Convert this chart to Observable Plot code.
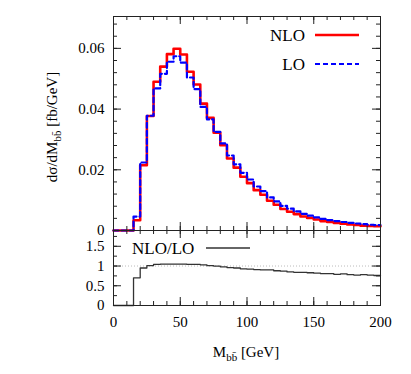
<!DOCTYPE html>
<html><head><meta charset="utf-8">
<script src="https://cdn.jsdelivr.net/npm/d3@7"></script>
<script src="https://cdn.jsdelivr.net/npm/@observablehq/plot@0.6"></script>
<style>
body{margin:0;background:#fff;}
#c{position:relative;width:411px;height:374px;font-family:"Liberation Serif","Times New Roman",serif;}
#c svg{position:absolute;left:0;overflow:visible;}
</style></head><body><div id="c"></div>
<script>
// bin lower edges (GeV), bin width 5
const binLow = [0,5,10,15,20,25,30,35,40,45,50,55,60,65,70,75,80,85,90,95,100,105,110,115,120,125,130,135,140,145,150,155,160,165,170,175,180,185,190,195];
const binWidth = 5;
// dσ/dM (fb/GeV)
const nlo = [0,0,0,0.0034,0.0215,0.0377,0.0490,0.0540,0.0581,0.0599,0.0580,0.0523,0.0481,0.0418,0.0371,0.0322,0.0281,0.0237,0.0207,0.0177,0.0156,0.0133,0.0118,0.0098,0.0085,0.0071,0.0062,0.0054,0.0046,0.0041,0.0036,0.0031,0.0028,0.0025,0.0022,0.0020,0.0018,0.0016,0.0015,0.0014];
const lo = [0,0,0,0.0046,0.0224,0.0378,0.0468,0.0516,0.0556,0.0574,0.0553,0.0504,0.0466,0.0407,0.0366,0.0325,0.0287,0.0247,0.0218,0.0190,0.0168,0.0145,0.0130,0.0109,0.0096,0.0081,0.0072,0.0063,0.0055,0.0049,0.0043,0.0038,0.0034,0.0031,0.0028,0.0025,0.0023,0.0021,0.0019,0.0018];
// NLO/LO ratio
const ratio = [0,0,0,0.70,0.95,1.01,1.04,1.05,1.05,1.05,1.05,1.04,1.04,1.03,1.01,1.00,0.98,0.96,0.95,0.93,0.92,0.91,0.90,0.90,0.88,0.87,0.85,0.84,0.84,0.83,0.82,0.81,0.81,0.79,0.80,0.78,0.77,0.78,0.77,0.76];
// axis ticks
const xTickLabels = [0,50,100,150,200];
const xMinor = [0,10,20,30,40,50,60,70,80,90,100,110,120,130,140,150,160,170,180,190,200];
const yTickLabels = [0,0.02,0.04,0.06];
const yMinor = [0,0.004,0.008,0.012,0.016,0.02,0.024,0.028,0.032,0.036,0.04,0.044,0.048,0.052,0.056,0.06,0.064,0.068];
const rTickLabels = [0,0.5,1,1.5];
const rMinor = [0,0.25,0.5,0.75,1,1.25,1.5,1.75];

const steps = vals => binLow.map((x,i)=>({x, y: vals[i]})).concat([{x: binLow[binLow.length-1]+binWidth, y: vals[vals.length-1]}]);

const W = 411, ML = 113, MR = 31;
const FW = W - ML - MR;
const FONT = '"Liberation Serif","Times New Roman",serif';
const frameCol = "#222";

function xTicksMarks(vals, len, FH){
  return [
    Plot.tickX(vals, {x: d=>d, insetTop: FH-len, stroke: frameCol, strokeWidth: 1}),
    Plot.tickX(vals, {x: d=>d, insetBottom: FH-len, stroke: frameCol, strokeWidth: 1})
  ];
}
function yTicksMarks(vals, len){
  return [
    Plot.tickY(vals, {y: d=>d, insetRight: FW-len, stroke: frameCol, strokeWidth: 1}),
    Plot.tickY(vals, {y: d=>d, insetLeft: FW-len, stroke: frameCol, strokeWidth: 1})
  ];
}

// main panel
const H1 = 230, MT1 = 16;
const FH1 = H1 - MT1;
const main = Plot.plot({
  width: W, height: H1, marginTop: MT1, marginBottom: 0, marginLeft: ML, marginRight: MR,
  style: {fontFamily: FONT, fontSize: "15px", background: "transparent", color: "#000"},
  x: {domain: [0,200], axis: null},
  y: {domain: [0,0.0705], axis: null},
  marks: [
    Plot.line(steps(nlo), {x: "x", y: "y", curve: "step-after", stroke: "#ff0000", strokeWidth: 2.6}),
    Plot.line(steps(lo), {x: "x", y: "y", curve: "step-after", stroke: "#0000ff", strokeWidth: 2.2, strokeDasharray: "5,3"}),
    ...xTicksMarks(xMinor, 4, FH1),
    ...xTicksMarks(xTickLabels, 8, FH1),
    ...yTicksMarks(yMinor, 4),
    ...yTicksMarks(yTickLabels, 8),
    Plot.axisY(yTickLabels, {tickSize: 0, tickPadding: 9, tickFormat: d => d===0 ? "0" : d.toFixed(2), label: null}),
    Plot.frame({stroke: frameCol, strokeWidth: 1})
  ]
});

// ratio panel
const H2 = 144, MB2 = 69;
const FH2 = H2 - MB2;
const lower = Plot.plot({
  width: W, height: H2, marginTop: 0, marginBottom: MB2, marginLeft: ML, marginRight: MR,
  style: {fontFamily: FONT, fontSize: "15px", background: "transparent", color: "#000"},
  x: {domain: [0,200], axis: null},
  y: {domain: [0,1.9], axis: null},
  marks: [
    Plot.ruleY([1], {stroke: "#aaa", strokeWidth: 0.8, strokeDasharray: "1,2"}),
    Plot.line(steps(ratio), {x: "x", y: "y", curve: "step-after", stroke: "#333", strokeWidth: 1.3}),
    ...xTicksMarks(xMinor, 4, FH2),
    ...xTicksMarks(xTickLabels, 8, FH2),
    ...yTicksMarks(rMinor, 4),
    ...yTicksMarks(rTickLabels, 8),
    Plot.axisY(rTickLabels, {tickSize: 0, tickPadding: 9, tickFormat: d => String(d), label: null}),
    Plot.axisX(xTickLabels, {tickSize: 0, tickPadding: 11, tickFormat: d => String(d), label: null}),
    Plot.frame({stroke: frameCol, strokeWidth: 1})
  ]
});

const c = document.getElementById("c");
main.style.top = "0px";
lower.style.top = H1 + "px";
c.appendChild(main);
c.appendChild(lower);

// y title
const s1 = d3.select(main);
const yt = s1.append("text").attr("transform", "translate(57,127) rotate(-90)")
  .attr("text-anchor", "middle").attr("font-family", FONT).attr("font-size", "15px").attr("fill", "#000");
yt.append("tspan").text("dσ/dM");
yt.append("tspan").attr("font-size", "11px").attr("dy", 4).text("bb̄");
yt.append("tspan").attr("dy", -4).text(" [fb/GeV]");

// legend (main)
const legend = [{name: "NLO", color: "#ff0000", dash: null, w: 2.6, y: 35}, {name: "LO", color: "#0000ff", dash: "5,3", w: 2.2, y: 64}];
legend.forEach(l => {
  s1.append("text").attr("x", 305).attr("y", l.y).attr("dy", "0.35em").attr("text-anchor", "end")
    .attr("font-family", FONT).attr("font-size", "17px").attr("fill", "#000").text(l.name);
  s1.append("line").attr("x1", 315).attr("x2", 359).attr("y1", l.y).attr("y2", l.y)
    .attr("stroke", l.color).attr("stroke-width", l.w).attr("stroke-dasharray", l.dash);
});

// ratio legend + x title
const s2 = d3.select(lower);
s2.append("text").attr("x", 132).attr("y", 18).attr("dy", "0.35em").attr("text-anchor", "start").attr("font-family", FONT)
  .attr("font-size", "17px").attr("fill", "#000").text("NLO/LO");
s2.append("line").attr("x1", 206).attr("x2", 250).attr("y1", 18).attr("y2", 18).attr("stroke", "#333").attr("stroke-width", 1.3);
const xt = s2.append("text").attr("x", 246).attr("y", 127).attr("text-anchor", "middle")
  .attr("font-family", FONT).attr("font-size", "15px").attr("fill", "#000");
xt.append("tspan").text("M");
xt.append("tspan").attr("font-size", "11px").attr("dy", 4).text("bb̄");
xt.append("tspan").attr("dy", -4).text(" [GeV]");
</script></body></html>
